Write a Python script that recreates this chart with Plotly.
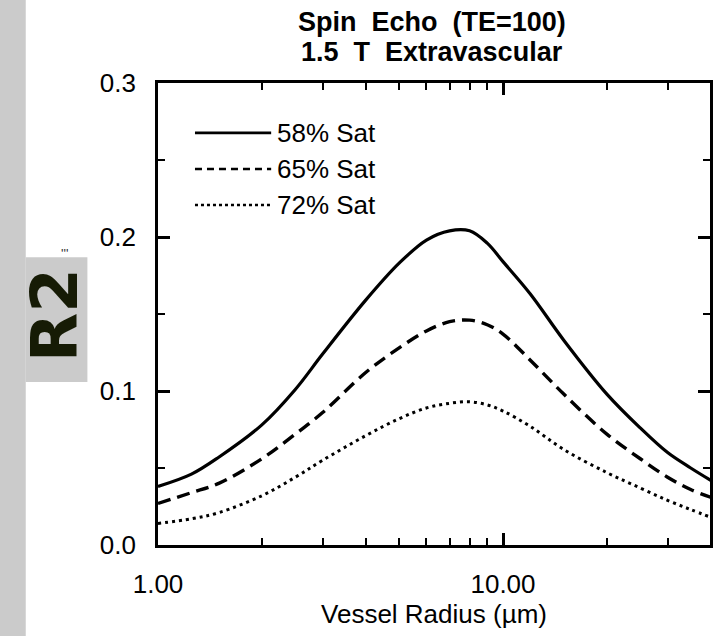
import plotly.graph_objects as go

# Vessel radius (um)
radius = [1.0, 1.25, 1.5, 2.0, 2.5, 3.0, 4.0, 5.0, 6.0, 7.0, 8.0, 9.0, 10.0,
          12.0, 15.0, 20.0, 25.0, 30.0, 35.0, 40.0]
# R2 values per saturation level
sat58 = [0.038, 0.046, 0.057, 0.078, 0.101, 0.124, 0.159, 0.183, 0.198, 0.204,
         0.204, 0.196, 0.184, 0.163, 0.133, 0.098, 0.076, 0.060, 0.050, 0.042]
sat65 = [0.027, 0.034, 0.040, 0.056, 0.072, 0.086, 0.112, 0.128, 0.139, 0.145,
         0.146, 0.143, 0.137, 0.120, 0.098, 0.072, 0.056, 0.044, 0.036, 0.031]
sat72 = [0.014, 0.017, 0.021, 0.032, 0.044, 0.055, 0.071, 0.082, 0.089, 0.092,
         0.093, 0.091, 0.087, 0.077, 0.062, 0.047, 0.037, 0.029, 0.023, 0.018]
series_names = ["58% Sat", "65% Sat", "72% Sat"]
x_tickvals = [1, 10]
x_ticktext = ["1.00", "10.00"]
y_tickvals = [0.0, 0.1, 0.2, 0.3]
y_ticktext = ["0.0", "0.1", "0.2", "0.3"]

FONT = "Liberation Sans, Arial, sans-serif"
styles = [dict(color="black", width=3.2, dash="solid"),
          dict(color="black", width=3.4, dash="13px,7px"),
          dict(color="black", width=3.0, dash="3px,4px")]
legend_dash = ["solid", "7px,5px", "3px,3px"]

fig = go.Figure()
for name, ys, st in zip(series_names, [sat58, sat65, sat72], styles):
    fig.add_trace(go.Scatter(x=radius, y=ys, mode="lines", name=name,
                             line=dict(shape="spline", smoothing=1.0, **st),
                             showlegend=False))

shapes = []
annotations = []
# custom legend (line sample + label) in paper coordinates
leg_y = [0.892, 0.814, 0.736]
for name, yy, d in zip(series_names, leg_y, legend_dash):
    shapes.append(dict(type="line", xref="paper", yref="paper", x0=0.067, x1=0.205,
                       y0=yy, y1=yy, line=dict(color="black", width=2.6, dash=d)))
    annotations.append(dict(text=name, xref="paper", yref="paper", x=0.212, y=yy,
                            xanchor="left", yanchor="middle", showarrow=False,
                            font=dict(family=FONT, size=26, color="black")))

# title lines
annotations.append(dict(text="Spin\u00a0\u00a0Echo\u00a0\u00a0(TE=100)", xref="paper", yref="paper",
                        x=0.497, y=1.132, xanchor="center", yanchor="middle", showarrow=False,
                        font=dict(family=FONT, size=27, color="black", weight="bold")))
annotations.append(dict(text="1.5\u00a0\u00a0T\u00a0\u00a0Extravascular", xref="paper", yref="paper",
                        x=0.497, y=1.067, xanchor="center", yanchor="middle", showarrow=False,
                        font=dict(family=FONT, size=27, color="black", weight="bold")))

# gray side strip and R2 label box
shapes.append(dict(type="rect", xref="paper", yref="paper", x0=-0.30, x1=-0.2396,
                   y0=-0.25, y1=1.25, fillcolor="#cbcbcb", line=dict(width=0), layer="below"))
shapes.append(dict(type="rect", xref="paper", yref="paper", x0=-0.2396, x1=-0.1279,
                   y0=0.353, y1=0.623, fillcolor="#cbcbcb", line=dict(width=0), layer="below"))
annotations.append(dict(text="<b>R2</b>", xref="paper", yref="paper", x=-0.1856, y=0.497,
                        xanchor="center", yanchor="middle", showarrow=False, textangle=-90,
                        font=dict(family="DejaVu Sans, sans-serif", size=64, color="#161b05")))
annotations.append(dict(text="'''", xref="paper", yref="paper", x=-0.169, y=0.630,
                        xanchor="center", yanchor="middle", showarrow=False,
                        font=dict(family=FONT, size=13, color="#333333")))

fig.update_layout(
    width=717, height=636,
    margin=dict(l=158, r=4, t=83, b=91),
    paper_bgcolor="white", plot_bgcolor="white",
    font=dict(family=FONT, size=26, color="black"),
    shapes=shapes, annotations=annotations,
    showlegend=False,
)
fig.update_xaxes(type="log", range=[0, 1.6], tickmode="array", tickvals=x_tickvals,
                 ticktext=x_ticktext, ticks="inside", ticklen=12, tickwidth=2.5,
                 tickcolor="black", showline=True, linewidth=2.8, linecolor="black",
                 mirror="ticks", showgrid=False, zeroline=False,
                 ticklabelstandoff=14,
                 minor=dict(tickmode="array", tickvals=[2, 3, 4, 5, 6, 7, 8, 9, 20, 30],
                            ticks="inside", ticklen=7, tickwidth=2.2, tickcolor="black",
                            showgrid=False),
                 title=dict(text="Vessel Radius (\u00b5m)", standoff=2,
                            font=dict(family=FONT, size=26, color="black")))
fig.update_yaxes(range=[0, 0.3], tickmode="array", tickvals=y_tickvals, ticktext=y_ticktext,
                 ticks="inside", ticklen=12, tickwidth=2.5, tickcolor="black",
                 showline=True, linewidth=2.8, linecolor="black", mirror="ticks",
                 showgrid=False, zeroline=False, ticklabelstandoff=14,
                 minor=dict(tickmode="array", tickvals=[0.05, 0.15, 0.25], ticks="inside",
                            ticklen=7, tickwidth=2.2, tickcolor="black", showgrid=False))

fig.write_html("out.html", config={"displayModeBar": False},
               post_script="document.body.style.margin='0';")
